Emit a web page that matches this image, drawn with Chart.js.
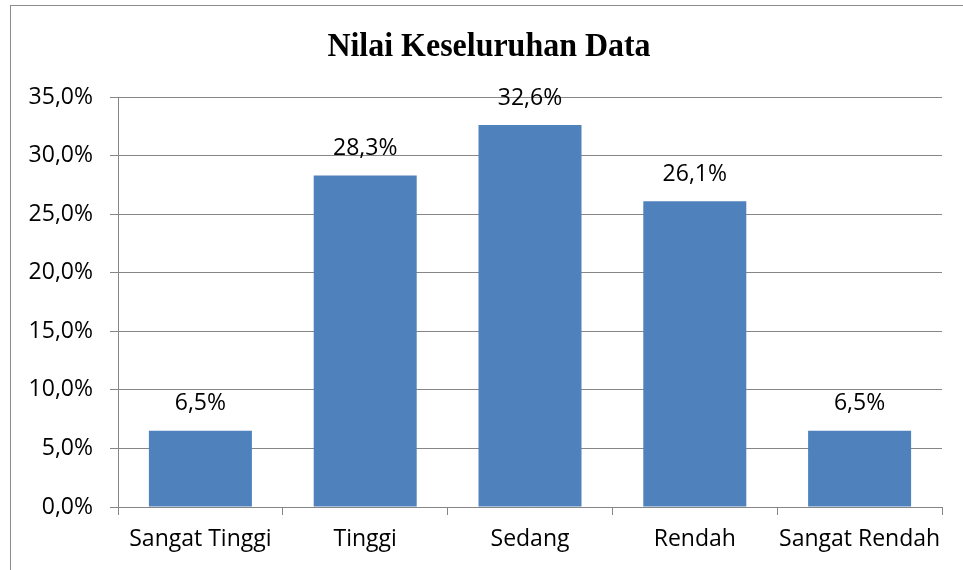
<!DOCTYPE html>
<html>
<head>
<meta charset="utf-8">
<script src="https://cdn.jsdelivr.net/npm/chart.js@4"></script>
<style>
  html, body { margin: 0; padding: 0; background: #fff; }
  #wrap { width: 963px; height: 570px; }
</style>
</head>
<body>
<div id="wrap"><canvas id="chart"></canvas></div>
<script>
const categories = ['Sangat Tinggi', 'Tinggi', 'Sedang', 'Rendah', 'Sangat Rendah'];
const values = [6.5, 28.3, 32.6, 26.1, 6.5];
const yTicks = { min: 0, max: 35, step: 5 };
const chartTitle = 'Nilai Keseluruhan Data';

const gridGray = '#868686';
const fmt = v => v.toFixed(1).replace('.', ',') + '%';

// outer frame + title text
const framePlugin = {
    id: 'frame',
    beforeDraw(chart) {
        const ctx = chart.ctx;
        ctx.save();
        ctx.fillStyle = '#fff';
        ctx.fillRect(0, 0, chart.width, chart.height);
        ctx.strokeStyle = '#8c8c8c';
        ctx.lineWidth = 1;
        ctx.strokeRect(10.5, 5.5, chart.width + 20, chart.height + 20);
        ctx.restore();
    },
    afterDraw(chart) {
        const ctx = chart.ctx;
        ctx.save();
        ctx.fillStyle = '#000';
        ctx.font = 'bold 34px "Liberation Serif", "Times New Roman", serif';
        ctx.textAlign = 'center';
        ctx.textBaseline = 'alphabetic';
        ctx.translate(489, 56);
        ctx.scale(0.94, 1);
        ctx.fillText(chartTitle, 0, 0);
        ctx.restore();
    }
};

// value labels above the bars
const valueLabels = {
    id: 'valueLabels',
    afterDatasetsDraw(chart) {
        const ctx = chart.ctx;
        const meta = chart.getDatasetMeta(0);
        ctx.save();
        ctx.fillStyle = '#000';
        ctx.font = '23px "Open Sans", sans-serif';
        ctx.textAlign = 'center';
        ctx.textBaseline = 'middle';
        meta.data.forEach((bar, i) => {
            ctx.fillText(fmt(values[i]), bar.x, bar.y - 27);
        });
        ctx.restore();
    }
};

new Chart(document.getElementById('chart'), {
    type: 'bar',
    data: {
        labels: categories,
        datasets: [{
            data: values,
            backgroundColor: '#4F81BD',
            borderWidth: 0,
            categoryPercentage: 0.625,
            barPercentage: 1.0
        }]
    },
    options: {
        responsive: true,
        maintainAspectRatio: false,
        animation: false,
        layout: { padding: { top: 97, right: 21, left: 0, bottom: 0 } },
        plugins: {
            legend: { display: false },
            title: { display: false },
            tooltip: { enabled: false }
        },
        scales: {
            x: {
                grid: {
                    drawOnChartArea: false,
                    drawTicks: true,
                    tickLength: 8,
                    color: gridGray,
                    offset: true
                },
                border: { color: gridGray },
                ticks: {
                    color: '#000',
                    font: { family: '"Open Sans", sans-serif', size: 23 },
                    padding: 11,
                    maxRotation: 0,
                    autoSkip: false
                },
                afterFit(scale) { scale.height = 63; }
            },
            y: {
                min: yTicks.min,
                max: yTicks.max,
                grid: {
                    color: gridGray,
                    tickLength: 8
                },
                border: { color: gridGray },
                ticks: {
                    stepSize: yTicks.step,
                    color: '#000',
                    font: { family: '"Open Sans", sans-serif', size: 23 },
                    padding: 17,
                    callback: v => fmt(v)
                },
                afterFit(scale) { scale.width = 118; }
            }
        }
    },
    plugins: [framePlugin, valueLabels]
});
</script>
</body>
</html>
